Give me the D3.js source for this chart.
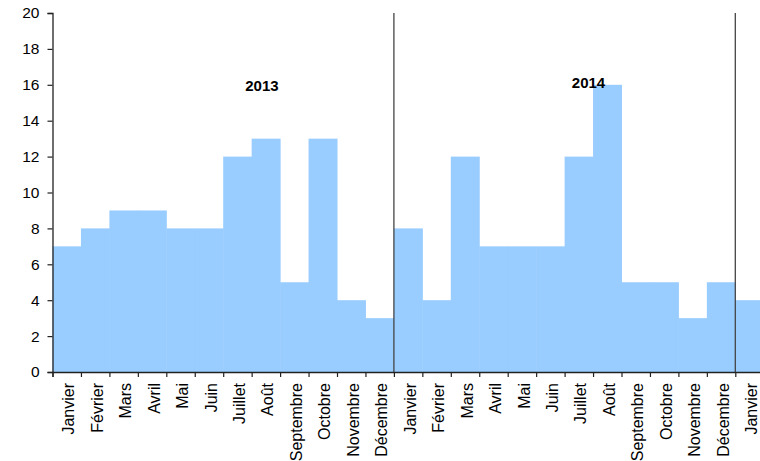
<!DOCTYPE html>
<html><head><meta charset="utf-8">
<script src="https://cdn.jsdelivr.net/npm/d3@7"></script>
<style>body{margin:0;background:#fff}svg{display:block}text{font-family:Arial,"Liberation Sans",sans-serif}</style>
</head><body><svg id="c" width="760" height="461"></svg>
<script>
const months = ["Janvier","Février","Mars","Avril","Mai","Juin","Juillet","Août","Septembre","Octobre","Novembre","Décembre",
"Janvier","Février","Mars","Avril","Mai","Juin","Juillet","Août","Septembre","Octobre","Novembre","Décembre","Janvier"];
const values = [7,8,9,9,8,8,12,13,5,13,4,3, 8,4,12,7,7,7,12,16,5,5,3,5, 4];
const yTicks = [0,2,4,6,8,10,12,14,16,18,20];
const yearLabels = ["2013","2014"];
const yearPos = [[7.36,15.65],[18.84,15.8]];
const yearDividers = [12,24];

(function(){
const svg = d3.select("#c");
const mLeft = 52.5, mTop = 13, mBottom = 372, bw = 28.45;
const x = d3.scaleLinear().domain([0, months.length]).range([mLeft, mLeft + bw*months.length]);
const y = d3.scaleLinear().domain([0,20]).range([mBottom, mTop]);

svg.append("g").selectAll("rect").data(values).join("rect")
  .attr("x",(d,i)=>x(i)).attr("width",(d,i)=>x(i+1)-x(i)+0.5)
  .attr("y",d=>y(d)).attr("height",d=>y(0)-y(d))
  .attr("fill","#99ccff");

svg.append("g").selectAll("line").data(yearDividers).join("line")
  .attr("x1",d=>x(d)).attr("x2",d=>x(d)).attr("y1",y(20)).attr("y2",y(0))
  .attr("stroke","#444").attr("stroke-width",1.3);

const ya = svg.append("g").attr("transform",`translate(${mLeft},0)`)
  .call(d3.axisLeft(y).tickValues(yTicks).tickSize(5).tickPadding(8));
ya.select(".domain").attr("stroke","#222").attr("stroke-width",1.3);
ya.selectAll(".tick line").attr("stroke","#222").attr("stroke-width",1.2);
ya.selectAll("text").attr("font-size","15.5px").attr("fill","#000").attr("font-family","Arial, 'Liberation Sans', sans-serif");

const xa = svg.append("g").attr("transform",`translate(0,${mBottom})`)
  .call(d3.axisBottom(x).tickValues(d3.range(0, months.length+1)).tickSize(5).tickFormat(""));
xa.select(".domain").attr("stroke","#222").attr("stroke-width",1.3);
xa.selectAll(".tick line").attr("stroke","#222").attr("stroke-width",1.2);

svg.append("g").selectAll("text").data(months).join("text")
  .attr("transform",(d,i)=>`translate(${x(i+0.5)+2},${mBottom+11}) rotate(-90)`)
  .attr("text-anchor","end").attr("dy","0.35em")
  .attr("font-size","16px").attr("fill","#000").text(d=>d);

svg.append("g").selectAll("text").data(yearLabels).join("text")
  .attr("x",(d,i)=>x(yearPos[i][0])).attr("y",(d,i)=>y(yearPos[i][1]))
  .attr("text-anchor","middle").attr("font-weight","bold").attr("font-size","15px")
  .attr("fill","#000").text(d=>d);
})();
</script></body></html>
